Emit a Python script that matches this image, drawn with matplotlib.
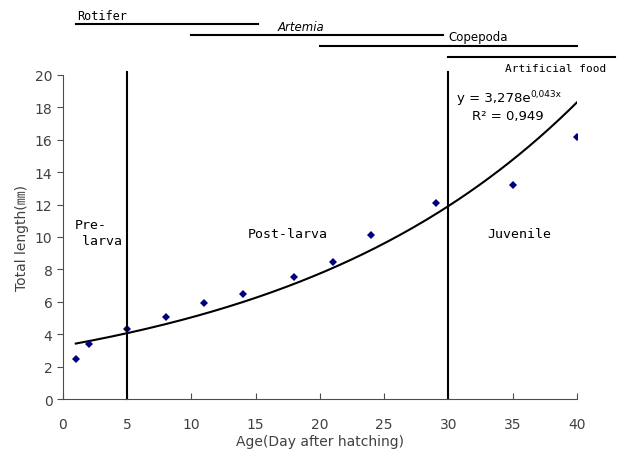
import numpy as np
import matplotlib
matplotlib.use('Agg')
import matplotlib.pyplot as plt

# Measured lengths
age = [1, 2, 5, 8, 11, 14, 18, 21, 24, 29, 35, 40]
length = [2.5, 3.4, 4.3, 5.05, 5.95, 6.5, 7.5, 8.45, 10.1, 12.1, 13.2, 16.15]

# Exponential fit shown on the chart
fit_a = 3.278
fit_b = 0.043

# Stage boundaries and labels
stage_bounds = [5, 30]
stage_labels = ['Pre-\n larva', 'Post-larva', 'Juvenile']
stage_pos = [(0.9, 10.25), (14.4, 10.2), (33.0, 10.2)]

# Feeding periods (start, end)
food_names = ['Rotifer', 'Artemia', 'Copepoda', 'Artificial food']
food_start = [1, 10, 20, 30]
food_end = [15.2, 29.6, 40, 43]

mono = 'DejaVu Sans Mono'

fig = plt.figure(figsize=(6.17, 4.52), dpi=100)
ax = fig.add_axes([0.102, 0.115, 0.833, 0.717])

xfit = np.linspace(1, 40, 200)
ax.plot(xfit, fit_a*np.exp(fit_b*xfit), color='k', lw=1.5)
ax.plot(age, length, 'D', color='#000080', markersize=4, markeredgewidth=0)

for b in stage_bounds:
  ax.plot([b, b], [0, 20.2], color='k', lw=1.5, clip_on=False)

for lab, (tx, ty) in zip(stage_labels, stage_pos):
  ax.text(tx, ty, lab, fontsize=9.5, va='center', ha='left', linespacing=1.3, family=mono)

# food bars above the plot
ybars = [23.15, 22.47, 21.8, 21.1]
for i in range(len(food_names)):
  ax.plot([food_start[i], food_end[i]], [ybars[i], ybars[i]], color='k', lw=1.5, clip_on=False)
ax.text(1.1, ybars[0]+0.12, food_names[0], fontsize=8.5, va='bottom', ha='left', family=mono)
ax.text(18.5, ybars[1]+0.12, food_names[1], fontsize=8.5, va='bottom', ha='center', style='italic')
ax.text(30.0, ybars[2]+0.15, food_names[2], fontsize=8.5, va='bottom', ha='left')
ax.text(34.4, 20.1, food_names[3], fontsize=8, va='bottom', ha='left', family=mono)

# equation
ax.text(30.7, 18.2, 'y = 3,278e', fontsize=9.5, va='bottom', ha='left')
ax.text(36.4, 18.6, '0,043x', fontsize=6.5, va='bottom', ha='left')
ax.text(31.8, 17.1, 'R² = 0,949', fontsize=9.5, va='bottom', ha='left')

ax.set_xlim(0, 40)
ax.set_ylim(0, 20)
ax.set_xticks(np.arange(0, 45, 5))
ax.set_yticks(np.arange(0, 22, 2))
ax.spines['top'].set_visible(False)
ax.spines['right'].set_visible(False)
ax.spines['left'].set_color('0.3')
ax.spines['bottom'].set_color('0.3')
ax.tick_params(axis='x', direction='in', length=4, labelsize=10, pad=13, colors='0.3', labelcolor='0.25')
ax.tick_params(axis='y', direction='out', length=4, labelsize=10, colors='0.3', labelcolor='0.25')
ax.set_xlabel('Age(Day after hatching)', fontsize=10, color='0.25', labelpad=2)
ax.set_ylabel('Total length(㎜)', fontsize=10, color='0.25', family=['DejaVu Sans', 'Noto Sans CJK KR'])

plt.savefig('out.png', dpi=100)
